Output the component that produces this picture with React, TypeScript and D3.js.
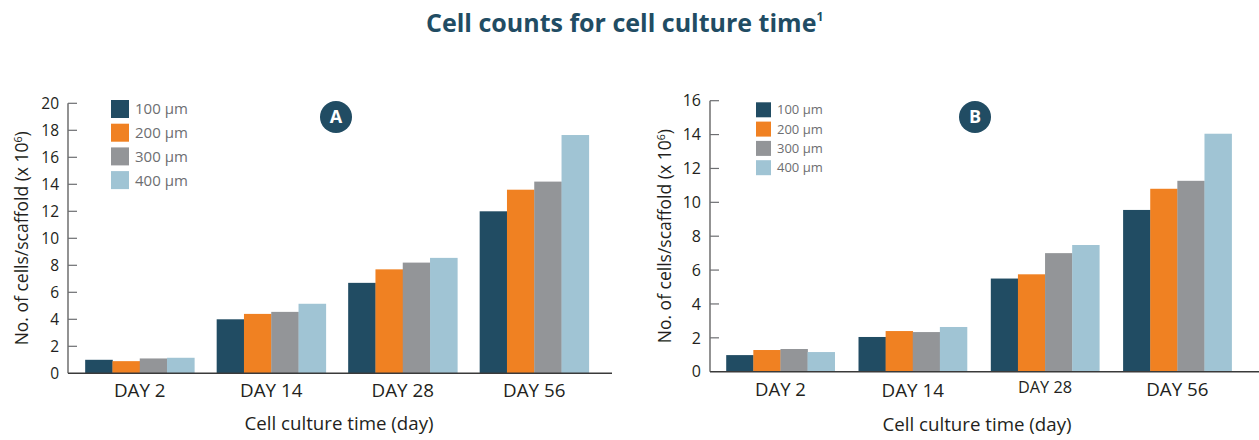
import React from "react";
import * as d3 from "d3";

const days = ["DAY 2", "DAY 14", "DAY 28", "DAY 56"];
const sizes = ["100 µm", "200 µm", "300 µm", "400 µm"];
const colors = ["#214c63", "#f08122", "#939598", "#a0c4d4"];

// Panel A values (x 10^6)
const a100 = [1.0, 4.0, 6.7, 12.0];
const a200 = [0.9, 4.4, 7.7, 13.6];
const a300 = [1.1, 4.55, 8.2, 14.2];
const a400 = [1.15, 5.15, 8.55, 17.65];
const aTicks = [0, 2, 4, 6, 8, 10, 12, 14, 16, 18, 20];

// Panel B values (x 10^6)
const b100 = [0.98, 2.05, 5.5, 9.55];
const b200 = [1.28, 2.4, 5.75, 10.8];
const b300 = [1.34, 2.34, 7.0, 11.27];
const b400 = [1.16, 2.64, 7.48, 14.05];
const bTicks = [0, 2, 4, 6, 8, 10, 12, 14, 16];

const FONT = "'Open Sans', 'Noto Sans', sans-serif";
const TEXT = "#231f20";
const NAVY = "#214c63";

type PanelCfg = {
  letter: string;
  series: number[][];
  ticks: number[];
  yMax: number;
  axisX: number;
  axisEnd: number;
  yTop: number;
  yBottom: number;
  bandRange: [number, number];
  pInner: number;
  pOuter: number;
  tickFont: number;
  legendX: number;
  legendY: number;
  legendSq: number;
  legendStep: number;
  legendFont: number;
  circleX: number;
  yTitleX: number;
  yTitleFont: number;
  labelDy: number[];
  labelFont: number[];
  xTitleX: number;
  xTitleY: number;
  xTitleFont: number;
};

function Panel({ c }: { c: PanelCfg }) {
  const y = d3.scaleLinear().domain([0, c.yMax]).range([c.yBottom, c.yTop]);
  const x0 = d3.scaleBand<string>().domain(days).range(c.bandRange).paddingInner(c.pInner).paddingOuter(c.pOuter);
  const x1 = d3.scaleBand<string>().domain(sizes).range([0, x0.bandwidth()]);
  return (
    <g>
      {days.map((d, di) => (
        <g key={d} transform={`translate(${x0(d)},0)`}>
          {sizes.map((s, si) => (
            <rect
              key={s}
              x={x1(s)}
              y={y(c.series[si][di])}
              width={x1.bandwidth() + 0.3}
              height={c.yBottom - y(c.series[si][di])}
              fill={colors[si]}
            />
          ))}
        </g>
      ))}
      <line x1={c.axisX} x2={c.axisEnd} y1={c.yBottom} y2={c.yBottom} stroke="#3a3a3a" strokeWidth={1.5} />
      <line x1={c.axisX} x2={c.axisX} y1={c.yTop} y2={c.yBottom} stroke="#4a4a4a" strokeWidth={1.2} />
      {c.ticks.map((t) => (
        <g key={t}>
          {t > 0 && <line x1={c.axisX} x2={c.axisX + 9} y1={y(t)} y2={y(t)} stroke="#6d6e71" strokeWidth={1.2} />}
          <text x={c.axisX - 9} y={y(t)} dy="0.36em" textAnchor="end" fontSize={c.tickFont} fill={TEXT} fontFamily={FONT}>
            {t}
          </text>
        </g>
      ))}
      {days.map((d, i) => (
        <text
          key={d}
          x={(x0(d) as number) + x0.bandwidth() / 2}
          y={c.yBottom + c.labelDy[i]}
          textAnchor="middle"
          fontSize={c.labelFont[i]}
          fill={TEXT}
          fontFamily={FONT}
        >
          {d}
        </text>
      ))}
      <text x={c.xTitleX} y={c.xTitleY} textAnchor="middle" fontSize={c.xTitleFont} fill={TEXT} fontFamily={FONT}>
        Cell culture time (day)
      </text>
      <text
        transform={`translate(${c.yTitleX},${(c.yTop + c.yBottom) / 2}) rotate(-90)`}
        textAnchor="middle"
        fontSize={c.yTitleFont}
        fill={TEXT}
        fontFamily={FONT}
      >
        No. of cells/scaffold (x 10
        <tspan fontSize={c.yTitleFont * 0.6} dy={-c.yTitleFont * 0.35}>6</tspan>
        <tspan dy={c.yTitleFont * 0.35}>)</tspan>
      </text>
      {sizes.map((s, i) => (
        <g key={s}>
          <rect x={c.legendX} y={c.legendY + i * c.legendStep} width={c.legendSq} height={c.legendSq} fill={colors[i]} />
          <text
            x={c.legendX + c.legendSq + 6}
            y={c.legendY + i * c.legendStep + c.legendSq / 2}
            dy="0.36em"
            fontSize={c.legendFont}
            fill="#6d6e71"
            fontFamily={FONT}
          >
            {s}
          </text>
        </g>
      ))}
      <circle cx={c.circleX} cy={117} r={16} fill={NAVY} />
      <text x={c.circleX} y={117} dy="0.36em" textAnchor="middle" fontSize={18} fontWeight="bold" fill="#fff" fontFamily={FONT}>
        {c.letter}
      </text>
    </g>
  );
}

export default function App() {
  const A: PanelCfg = {
    letter: "A",
    series: [a100, a200, a300, a400],
    ticks: aTicks,
    yMax: 20,
    axisX: 68,
    axisEnd: 612,
    yTop: 103.3,
    yBottom: 373.3,
    bandRange: [74, 600],
    pInner: 0.17,
    pOuter: 0.085,
    tickFont: 15.5,
    legendX: 111,
    legendY: 100,
    legendSq: 18,
    legendStep: 23.7,
    legendFont: 15,
    circleX: 336,
    yTitleX: 28,
    yTitleFont: 17.5,
    labelDy: [24, 24, 24, 24],
    labelFont: [18.8, 18.8, 18.8, 18.8],
    xTitleX: 339,
    xTitleY: 429.5,
    xTitleFont: 18.7,
  };
  const B: PanelCfg = {
    letter: "B",
    series: [b100, b200, b300, b400],
    ticks: bTicks,
    yMax: 16,
    axisX: 710,
    axisEnd: 1259,
    yTop: 100.7,
    yBottom: 371.7,
    bandRange: [714.3, 1243.5],
    pInner: 0.18,
    pOuter: 0.09,
    tickFont: 16,
    legendX: 756,
    legendY: 102.3,
    legendSq: 15,
    legendStep: 19.3,
    legendFont: 13,
    circleX: 975,
    yTitleX: 671,
    yTitleFont: 17.5,
    labelDy: [24.5, 25, 21.6, 24.5],
    labelFont: [18.5, 18.8, 16.3, 18.8],
    xTitleX: 977,
    xTitleY: 430.5,
    xTitleFont: 18.7,
  };
  return (
    <svg width={1259} height={440} style={{ display: "block", position: "absolute", left: 0, top: 0 }}>
      <rect width={1259} height={440} fill="#fff" />
      <text x={426} y={31.7} fontSize={25} fontWeight="bold" fill={NAVY} fontFamily={FONT}>
        Cell counts for cell culture time
        <tspan fontSize={12} dy={-11}>1</tspan>
      </text>
      <Panel c={A} />
      <Panel c={B} />
    </svg>
  );
}
